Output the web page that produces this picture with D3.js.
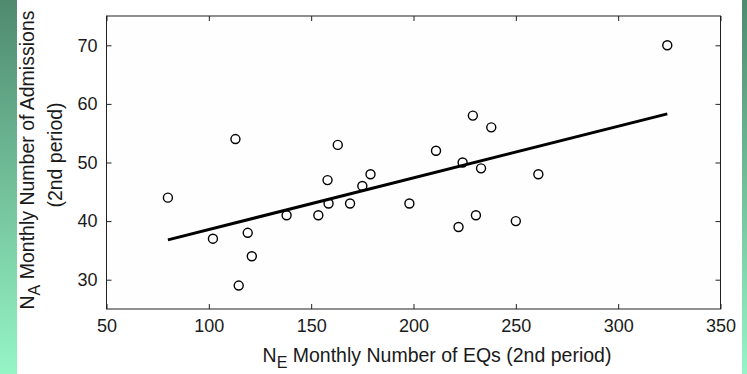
<!DOCTYPE html>
<meta charset="utf-8">
<script src="https://d3js.org/d3.v7.min.js"></script>
<style>
  body { margin: 0; background: #fff; }
  text { font-family: "Liberation Sans", Arial, sans-serif; fill: #1a1a1a; }
</style>
<body>
<div id="chart"></div>
</body>
<script>
  // monthly number of EQs vs monthly number of admissions (2nd period)
  var eqs = [80, 102, 113, 114.6, 119, 121, 138, 153.5, 158, 158.5, 163, 169, 175,
             179, 198, 211, 222, 224, 229, 230.5, 233, 238, 250, 261, 324];
  var adm = [44, 37, 54, 29, 38, 34, 41, 41, 47, 43, 53, 43, 46,
             48, 43, 52, 39, 50, 58, 41, 49, 56, 40, 48, 70];

  // fitted line end points
  var fitX = [80, 324];
  var fitY = [36.8, 58.3];

  var xTicks = [50, 100, 150, 200, 250, 300, 350];
  var yTicks = [30, 40, 50, 60, 70];

  var W = 747, H = 374;
  var margin = {top: 16, right: 26.5, bottom: 65, left: 106.5},
    width = W - margin.left - margin.right,
    height = H - margin.top - margin.bottom;

  var svg = d3.select("#chart").append("svg")
    .attr("width", W)
    .attr("height", H);

  var defs = svg.append("defs");
  var grad = defs.append("linearGradient")
    .attr("id", "strip")
    .attr("x1", 0).attr("y1", 0).attr("x2", 0).attr("y2", 1);
  grad.append("stop").attr("offset", "0%").attr("stop-color", "#4f8a6f");
  grad.append("stop").attr("offset", "100%").attr("stop-color", "#95f5c5");

  svg.append("rect").attr("x", 0).attr("y", 0).attr("width", 17).attr("height", H)
    .attr("fill", "url(#strip)");
  svg.append("rect").attr("x", 742).attr("y", 0).attr("width", 5).attr("height", H)
    .attr("fill", "url(#strip)");

  var g = svg.append("g")
    .attr("transform", `translate(${margin.left},${margin.top})`);

  var x = d3.scaleLinear().domain([50, 350]).range([0, width]);
  var y = d3.scaleLinear().domain([25, 75]).range([height, 0]);

  g.append("rect")
    .attr("width", width).attr("height", height)
    .attr("fill", "#fefefe")
    .attr("stroke", "#222").attr("stroke-width", 1);

  var fs = 18, lfs = 19.5;

  g.append("g")
    .attr("transform", `translate(0,${height})`)
    .call(d3.axisBottom(x).tickValues(xTicks).tickSizeInner(-5).tickSizeOuter(0).tickPadding(10))
    .call(a => a.select(".domain").remove())
    .selectAll("text").style("font-size", fs + "px");

  g.append("g")
    .call(d3.axisTop(x).tickValues(xTicks).tickSizeInner(-5).tickSizeOuter(0).tickFormat(""))
    .call(a => a.select(".domain").remove());

  g.append("g")
    .call(d3.axisLeft(y).tickValues(yTicks).tickSizeInner(-5).tickSizeOuter(0).tickPadding(9))
    .call(a => a.select(".domain").remove())
    .selectAll("text").style("font-size", fs + "px");

  g.append("g")
    .attr("transform", `translate(${width},0)`)
    .call(d3.axisRight(y).tickValues(yTicks).tickSizeInner(-5).tickSizeOuter(0).tickFormat(""))
    .call(a => a.select(".domain").remove());

  g.selectAll(".tick line").attr("stroke", "#222");
  g.selectAll(".tick text").attr("fill", "#1a1a1a").style("font-family", "'Liberation Sans', Arial, sans-serif");

  // fitted line
  g.append("path")
    .datum(d3.zip(fitX, fitY))
    .attr("d", d3.line().x(d => x(d[0])).y(d => y(d[1])))
    .attr("fill", "none")
    .attr("stroke", "#000")
    .attr("stroke-width", 3);

  // points
  g.selectAll(".pt")
    .data(d3.zip(eqs, adm))
    .join("circle")
      .attr("class", "pt")
      .attr("cx", d => x(d[0]))
      .attr("cy", d => y(d[1]))
      .attr("r", 4.5)
      .attr("fill", "none")
      .attr("stroke", "#000")
      .attr("stroke-width", 1.4);

  // x label
  var xl = svg.append("text")
    .attr("x", 437).attr("y", 362)
    .attr("text-anchor", "middle")
    .style("font-size", lfs + "px");
  xl.append("tspan").text("N");
  xl.append("tspan").attr("dy", 6).style("font-size", "16px").text("E");
  xl.append("tspan").attr("dy", -6).text(" Monthly Number of EQs (2nd period)");

  // y label, two lines
  var yl = svg.append("text")
    .attr("transform", "translate(34,160) rotate(-90)")
    .attr("text-anchor", "middle")
    .style("font-size", lfs + "px");
  yl.append("tspan").text("N");
  yl.append("tspan").attr("dy", 6).style("font-size", "16px").text("A");
  yl.append("tspan").attr("dy", -6).text(" Monthly Number of Admissions");

  svg.append("text")
    .attr("transform", "translate(62,155) rotate(-90)")
    .attr("text-anchor", "middle")
    .style("font-size", lfs + "px")
    .text("(2nd period)");
</script>
